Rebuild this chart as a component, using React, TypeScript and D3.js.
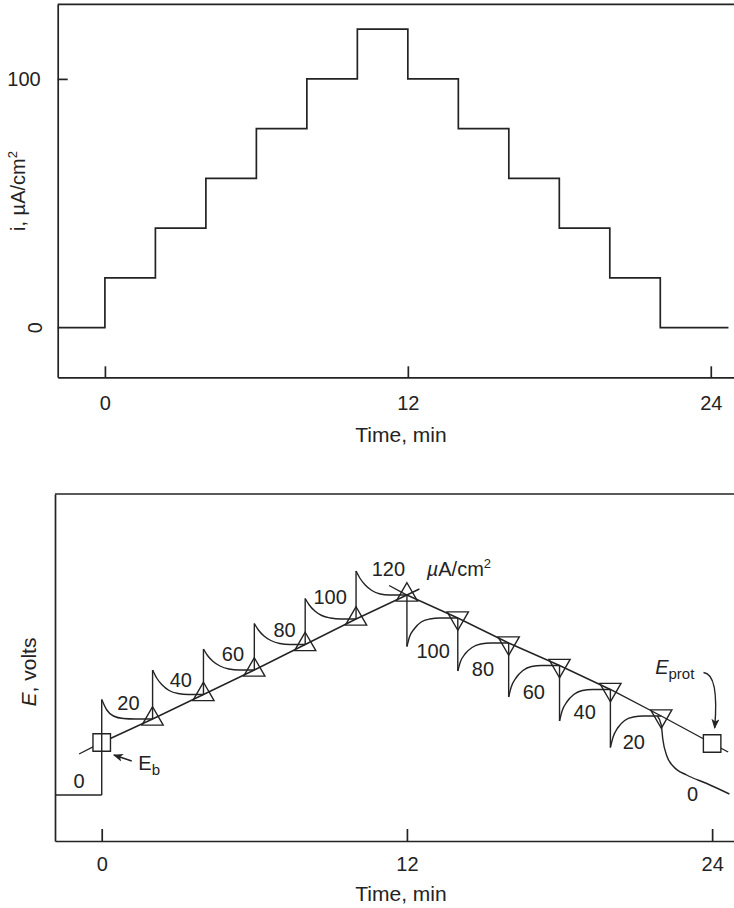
import React, { useEffect, useRef } from "react";
import * as d3 from "d3";

// ---- top panel: applied current (uA/cm2) vs time (min)
const stepTimes = [0, 2, 4, 6, 8, 10, 12, 14, 16, 18, 20, 22];
const stepCurrents = [20, 40, 60, 80, 100, 120, 100, 80, 60, 40, 20, 0];
const stepEndTime = 24.7;
const timeTicks = [0, 12, 24];
const currentTicks = [100];

// ---- bottom panel: potential response (arbitrary mV scale)
const upTimes = [0, 2, 4, 6, 8, 10, 12];
const upPotentials = [105, 152, 201, 250, 301, 352, 400];
const downTimes = [12, 14, 16, 18, 20, 22, 24];
const downPotentials = [400, 354, 304, 259, 211, 158, 103];
const upLineEnds = [[-0.89, 82], [12.49, 412]];
const downLineEnds = [[11.3, 419], [24.63, 86]];

// sudden jumps when the current is switched
const jumpTimes = [0, 2, 4, 6, 8, 10, 12, 14, 16, 18, 20];
const jumpFrom = [0, 152, 201, 250, 301, 352, 400, 354, 304, 259, 211];
const jumpTo = [191, 250, 292, 343, 393, 448, 297, 248, 196, 148, 95];

// decay / recovery after each jump  [t, E]
const transients = [
  [[0, 191], [0.2, 170], [0.46, 158], [0.85, 153], [1.3, 152], [2, 152]],
  [[2, 250], [2.16, 234], [2.38, 220], [2.65, 209], [3.0, 203], [3.4, 201], [4, 201]],
  [[4, 292], [4.16, 279], [4.38, 267], [4.65, 258], [5.0, 252], [5.4, 250], [6, 250]],
  [[6, 343], [6.16, 330], [6.38, 318], [6.65, 309], [7.0, 303], [7.4, 301], [8, 301]],
  [[8, 393], [8.16, 380], [8.38, 368], [8.65, 359], [9.0, 354], [9.4, 352], [10, 352]],
  [[10, 448], [10.16, 433], [10.36, 420], [10.62, 409], [10.95, 402], [11.3, 400], [12, 400]],
  [[12, 297], [12.1, 316], [12.3, 333], [12.56, 346], [12.9, 352], [13.3, 354], [14, 354]],
  [[14, 248], [14.1, 266], [14.3, 283], [14.56, 295], [14.9, 302], [15.3, 304], [16, 304]],
  [[16, 196], [16.1, 216], [16.3, 235], [16.56, 249], [16.9, 257], [17.3, 259], [18, 259]],
  [[18, 148], [18.1, 168], [18.3, 187], [18.56, 201], [18.9, 209], [19.3, 211], [20, 211]],
  [[20, 95], [20.1, 115], [20.3, 135], [20.56, 149], [20.9, 156], [21.3, 158], [22, 158]],
];
const zeroDecay = [[21.85, 158], [22.0, 140], [22.06, 112], [22.22, 78], [22.48, 57], [23.0, 40], [23.79, 23], [24.68, 2]];

// current labels beside each transient
const stepLabelText = ["0", "20", "40", "60", "80", "100", "120", "100", "80", "60", "40", "20", "0"];
const stepLabelT = [-0.89, 1.05, 3.11, 5.16, 7.19, 8.98, 11.27, 13.03, 14.99, 16.99, 18.99, 20.92, 23.23];
const stepLabelE = [29, 185, 231, 283, 330, 397, 452, 288, 252, 207, 167, 107, 3];

const FONT = "'Liberation Sans', Arial, Helvetica, sans-serif";
const INK = "#232323";

function styleAxis(sel, width) {
  sel.attr("font-family", FONT).attr("font-size", 20).style("color", INK);
  sel.selectAll("path, line").attr("stroke-width", width);
}

function drawTop(svg) {
  const x = d3.scaleLinear().domain([-1.87, 24.92]).range([57.7, 734]);
  const y = d3.scaleLinear().domain([-20, 130]).range([377.3, 4.3]);
  const [x0, x1] = x.range();
  const [y0, y1] = y.range();
  const g = svg.append("g");

  g.append("line")
    .attr("x1", x0).attr("x2", x1).attr("y1", y1).attr("y2", y1)
    .attr("stroke", INK).attr("stroke-width", 1.7);

  const xAxis = g.append("g")
    .attr("transform", `translate(0,${y0})`)
    .call(d3.axisBottom(x).tickValues(timeTicks).tickSize(-11).tickSizeOuter(0).tickPadding(19));
  styleAxis(xAxis, 1.7);

  const yAxis = g.append("g")
    .attr("transform", `translate(${x0},0)`)
    .call(d3.axisLeft(y).tickValues(currentTicks).tickSize(-10).tickSizeOuter(0).tickPadding(17));
  styleAxis(yAxis, 1.7);

  // the zero label is printed sideways
  g.append("text")
    .attr("transform", `translate(41.5,${y(0)}) rotate(-90)`)
    .attr("text-anchor", "middle")
    .attr("font-family", FONT).attr("font-size", 20).attr("fill", INK)
    .text("0");

  const pts = [[x.domain()[0], 0], ...stepTimes.map((t, i) => [t, stepCurrents[i]]), [stepEndTime, 0]];
  const stepLine = d3.line().curve(d3.curveStepAfter).x(d => x(d[0])).y(d => y(d[1]));
  g.append("path")
    .attr("d", stepLine(pts))
    .attr("fill", "none").attr("stroke", INK).attr("stroke-width", 1.7);

  g.append("text")
    .attr("x", 401).attr("y", 442)
    .attr("text-anchor", "middle")
    .attr("font-family", FONT).attr("font-size", 21).attr("fill", INK)
    .text("Time, min");

  const yt = g.append("text")
    .attr("transform", "translate(25,191) rotate(-90)")
    .attr("text-anchor", "middle")
    .attr("font-family", FONT).attr("font-size", 20).attr("fill", INK);
  yt.append("tspan").text("i, µA/cm");
  yt.append("tspan").attr("font-size", 13).attr("dy", -8).text("2");
}

function drawBottom(svg) {
  const x = d3.scaleLinear().domain([-1.837, 24.86]).range([55, 734]);
  const y = d3.scaleLinear().domain([-92, 602]).range([841, 494]);
  const [x0, x1] = x.range();
  const [y0, y1] = y.range();
  const g = svg.append("g");

  const defs = svg.append("defs");
  defs.append("marker")
    .attr("id", "arrowhead")
    .attr("viewBox", "0 0 10 8")
    .attr("refX", 9).attr("refY", 4)
    .attr("markerWidth", 10).attr("markerHeight", 8)
    .attr("markerUnits", "userSpaceOnUse")
    .attr("orient", "auto")
    .append("path")
    .attr("d", "M0,0L10,4L0,8L2.5,4Z")
    .attr("fill", INK);

  g.append("line")
    .attr("x1", x0).attr("x2", x1).attr("y1", y1).attr("y2", y1)
    .attr("stroke", INK).attr("stroke-width", 1.7);

  const xAxis = g.append("g")
    .attr("transform", `translate(0,${y0})`)
    .call(d3.axisBottom(x).tickValues(timeTicks).tickSize(-12).tickSizeOuter(0).tickPadding(15.5));
  styleAxis(xAxis, 1.7);

  const yAxis = g.append("g")
    .attr("transform", `translate(${x0},0)`)
    .call(d3.axisLeft(y).tickValues([]).tickSizeOuter(0));
  styleAxis(yAxis, 1.7);

  const line = d3.line().x(d => x(d[0])).y(d => y(d[1]));
  const smooth = d3.line().curve(d3.curveMonotoneX).x(d => x(d[0])).y(d => y(d[1]));
  const stroke = (p, w = 1.4) => p.attr("fill", "none").attr("stroke", INK).attr("stroke-width", w);

  // steady-state potential lines (rising and falling current)
  const upLine = [upLineEnds[0], ...upTimes.map((t, i) => [t, upPotentials[i]]), upLineEnds[1]];
  const downLine = [downLineEnds[0], ...downTimes.map((t, i) => [t, downPotentials[i]]), downLineEnds[1]];
  stroke(g.append("path").attr("d", line(upLine)));
  stroke(g.append("path").attr("d", line(downLine)));

  // squares: Eb and Eprot
  const square = d3.symbol().type(d3.symbolSquare).size(306);
  [[upTimes[0], upPotentials[0]], [downTimes[6], downPotentials[6]]].forEach(d => {
    g.append("path")
      .attr("d", square())
      .attr("transform", `translate(${x(d[0])},${y(d[1])})`)
      .attr("fill", "#fff").attr("stroke", INK).attr("stroke-width", 1.4);
  });

  // rest potential before switching on
  stroke(g.append("path").attr("d", line([[x.domain()[0], 0], [0, 0]])));

  jumpTimes.forEach((t, i) => {
    stroke(g.append("path").attr("d", line([[t, jumpFrom[i]], [t, jumpTo[i]]])));
  });
  transients.forEach(tr => stroke(g.append("path").attr("d", smooth(tr))));
  stroke(g.append("path").attr("d", smooth(zeroDecay)));

  // triangles
  const tri = d3.symbol().type(d3.symbolTriangle).size(195);
  upTimes.slice(1).forEach((t, i) => {
    g.append("path")
      .attr("d", tri())
      .attr("transform", `translate(${x(t)},${y(upPotentials[i + 1])})`)
      .attr("fill", "none").attr("stroke", INK).attr("stroke-width", 1.4);
  });
  downTimes.slice(1, 6).forEach((t, i) => {
    g.append("path")
      .attr("d", tri())
      .attr("transform", `translate(${x(t)},${y(downPotentials[i + 1])}) rotate(180)`)
      .attr("fill", "none").attr("stroke", INK).attr("stroke-width", 1.4);
  });

  // current labels
  stepLabelText.forEach((s, i) => {
    g.append("text")
      .attr("x", x(stepLabelT[i])).attr("y", y(stepLabelE[i]))
      .attr("dy", "0.36em")
      .attr("text-anchor", "middle")
      .attr("font-family", FONT).attr("font-size", 20).attr("fill", INK)
      .text(s);
  });

  const unit = g.append("text")
    .attr("x", x(12.78)).attr("y", y(438))
    .attr("font-family", FONT).attr("font-size", 20).attr("fill", INK);
  unit.append("tspan").attr("font-style", "italic").text("µ");
  unit.append("tspan").text("A/cm");
  unit.append("tspan").attr("font-size", 13).attr("dy", -8).text("2");

  // Eb annotation
  stroke(g.append("path").attr("d", line([[1.18, 68], [0.48, 80]])).attr("marker-end", "url(#arrowhead)"));
  const eb = g.append("text")
    .attr("x", x(1.44)).attr("y", y(50))
    .attr("font-family", FONT).attr("font-size", 20).attr("fill", INK);
  eb.append("tspan").text("E");
  eb.append("tspan").attr("font-size", 15).attr("dy", 5).text("b");

  // Eprot annotation
  const a0 = [x(23.66), y(245)], c = [x(24.28), y(242)], a1 = [x(24.1), y(134)];
  stroke(g.append("path").attr("d", `M${a0}Q${c} ${a1}`)).attr("marker-end", "url(#arrowhead)");
  const ep = g.append("text")
    .attr("x", x(21.76)).attr("y", y(243))
    .attr("font-family", FONT).attr("font-size", 20).attr("fill", INK);
  ep.append("tspan").attr("font-style", "italic").text("E");
  ep.append("tspan").attr("font-size", 15).attr("dy", 5).text("prot");

  g.append("text")
    .attr("x", 401).attr("y", 901)
    .attr("text-anchor", "middle")
    .attr("font-family", FONT).attr("font-size", 21).attr("fill", INK)
    .text("Time, min");

  const yt = g.append("text")
    .attr("transform", "translate(36,672) rotate(-90)")
    .attr("text-anchor", "middle")
    .attr("font-family", FONT).attr("font-size", 21).attr("fill", INK);
  yt.append("tspan").attr("font-style", "italic").text("E");
  yt.append("tspan").text(", volts");
}

export default function App() {
  const ref = useRef(null);

  useEffect(() => {
    const svg = d3.select(ref.current);
    svg.selectAll("*").remove();
    drawTop(svg);
    drawBottom(svg);
  }, []);

  return (
    <svg
      ref={ref}
      width={734}
      height={908}
      style={{ position: "absolute", left: 0, top: 0, background: "#fff" }}
    />
  );
}
